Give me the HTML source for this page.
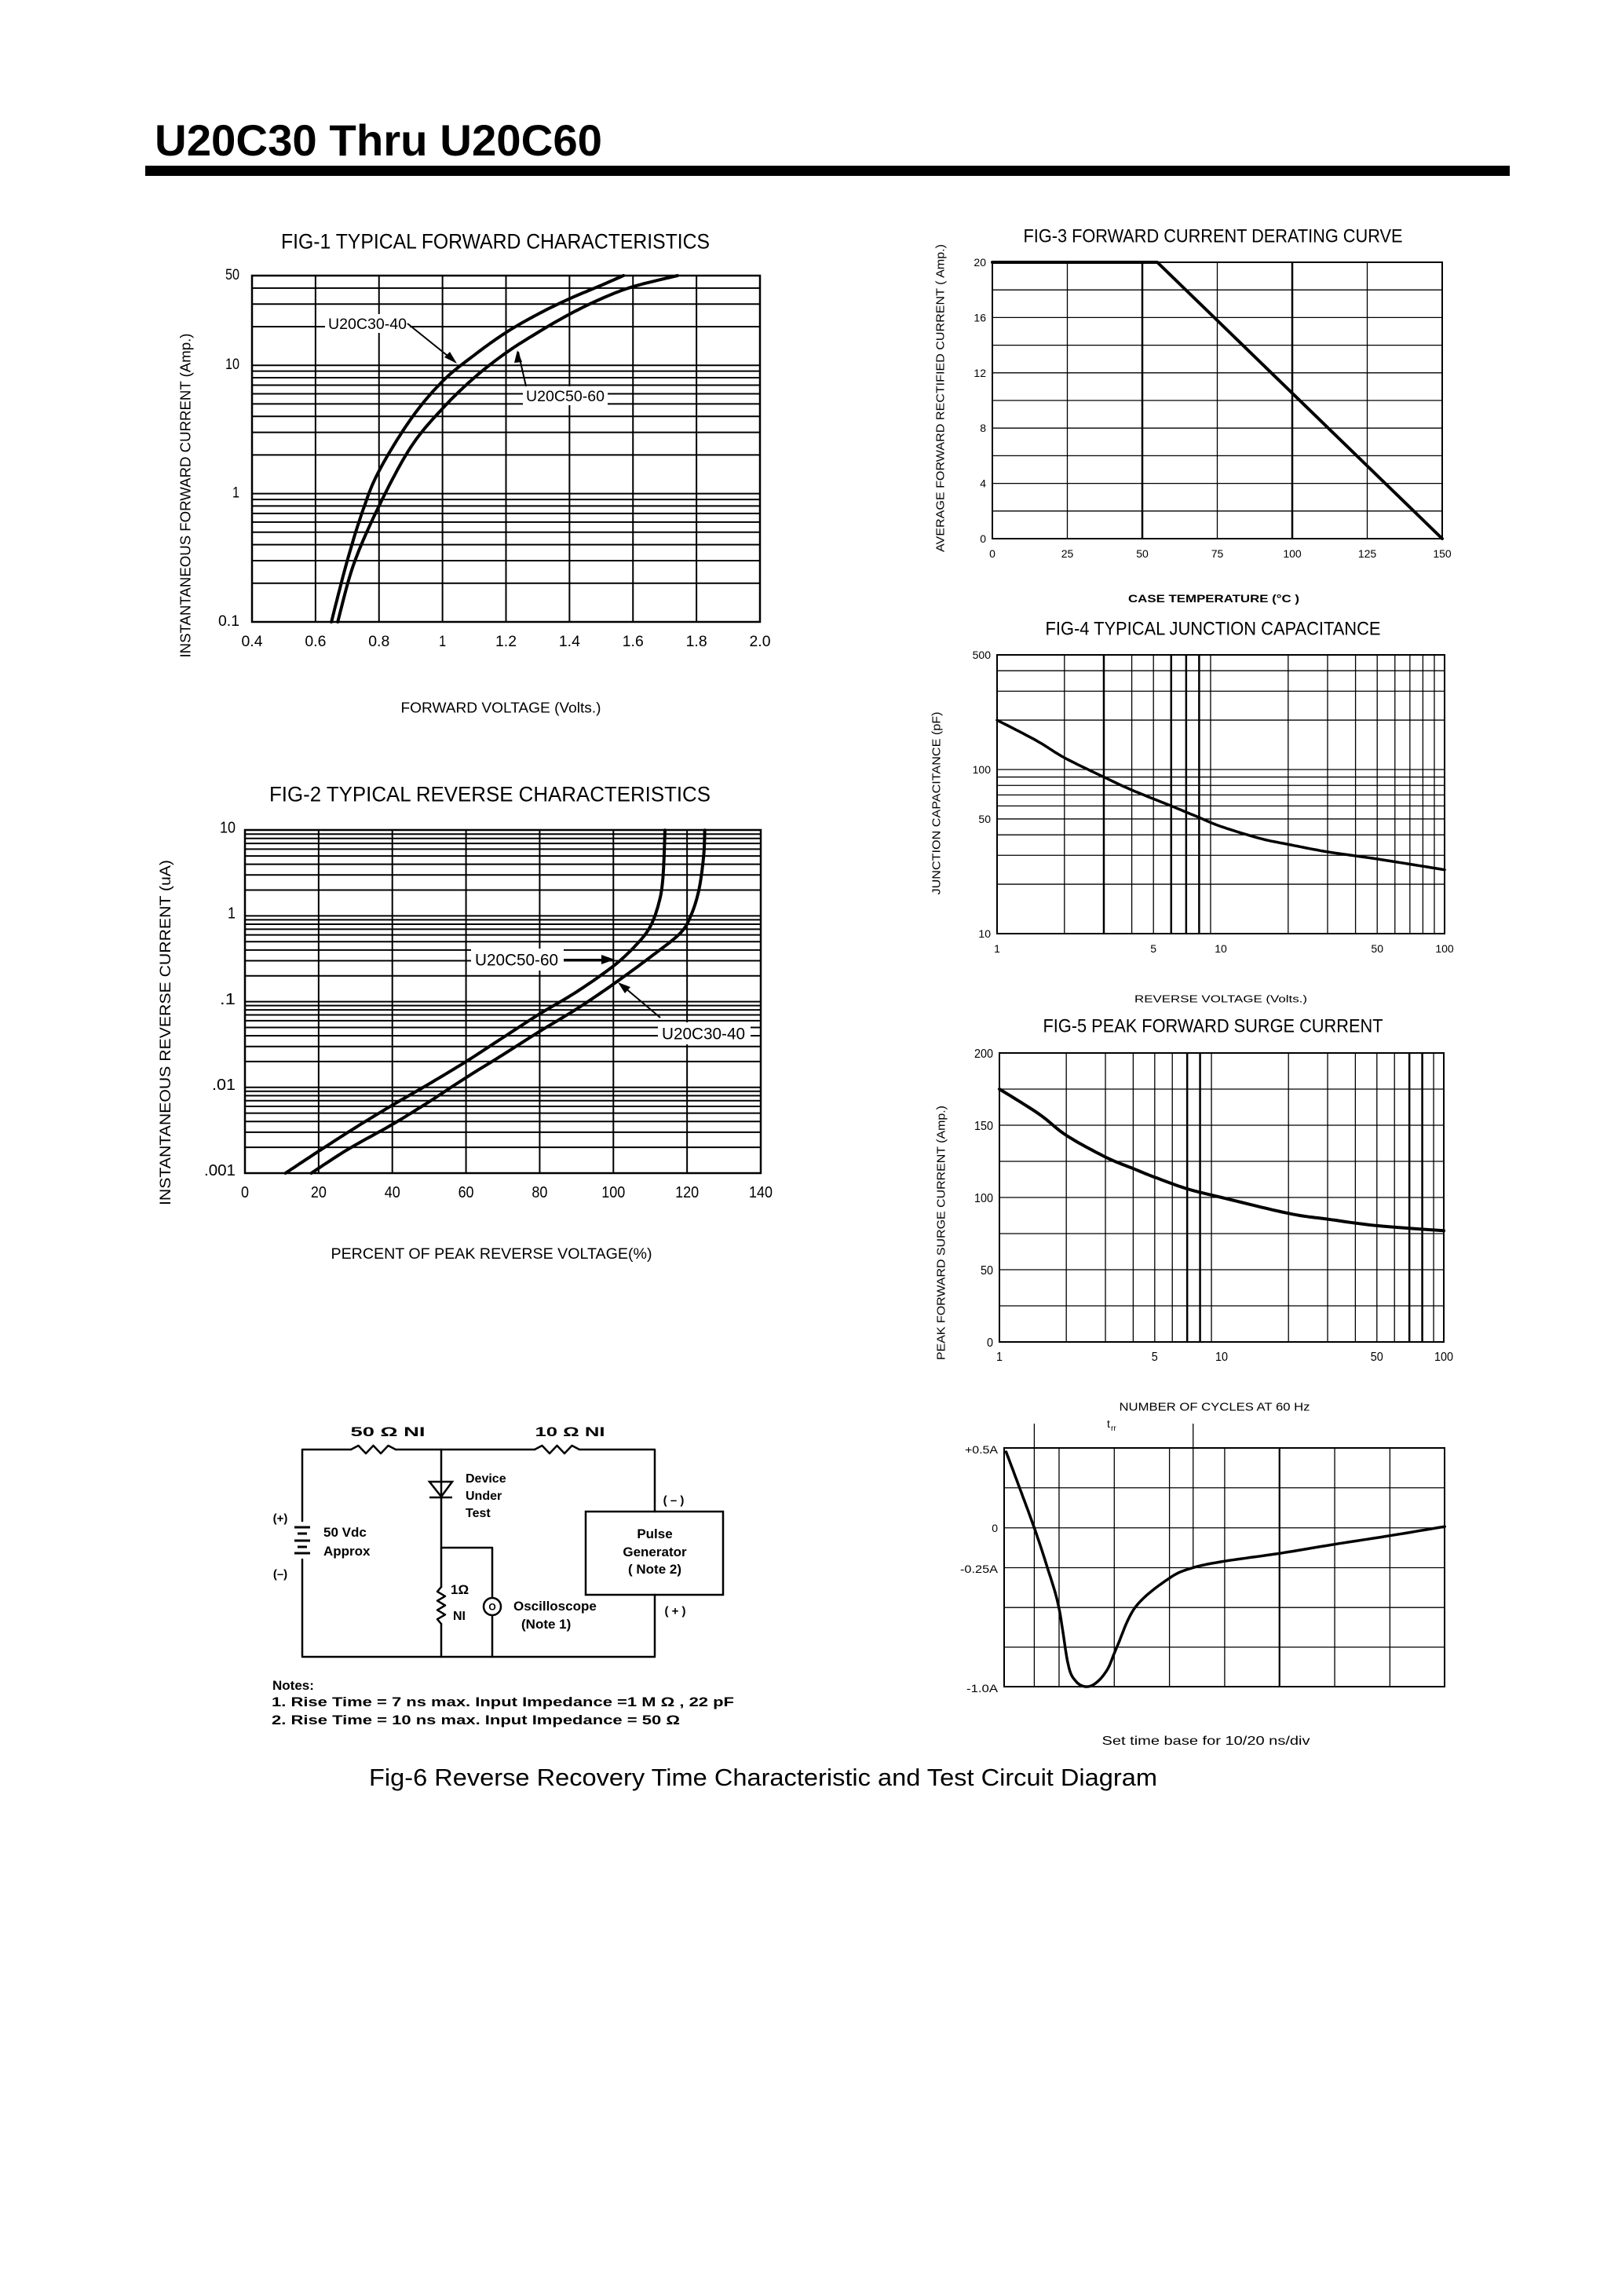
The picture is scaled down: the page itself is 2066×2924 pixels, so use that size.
<!DOCTYPE html>
<html><head><meta charset="utf-8"><style>
html,body{margin:0;padding:0;background:#fff;}
svg{display:block;}
</style></head><body>
<svg id="s" xmlns="http://www.w3.org/2000/svg" width="2066" height="2924" viewBox="0 0 2066 2924" font-family="Liberation Sans, Arial, sans-serif">
<rect width="2066" height="2924" fill="#fff"/>
<text x="197" y="198" font-size="56" font-weight="bold" textLength="570" lengthAdjust="spacingAndGlyphs">U20C30 Thru U20C60</text>
<rect x="185" y="211" width="1738" height="13" fill="#000"/>
</svg>
<script>
var S=document.getElementById('s'),NS='http://www.w3.org/2000/svg';
function el(n,a,t){var e=document.createElementNS(NS,n);for(var k in a)e.setAttribute(k,a[k]);if(t!=null)e.textContent=t;S.appendChild(e);return e;}
function L(x1,y1,x2,y2,w){el('line',{x1:x1,y1:y1,x2:x2,y2:y2,stroke:'#000','stroke-width':w||2});}
function T(x,y,s,sz,anc,len,o){o=o||{};var a={x:x,y:y+sz*0.36,'font-size':sz,'text-anchor':anc||'middle'};if(len){a.textLength=len;a.lengthAdjust='spacingAndGlyphs';}if(o.w)a['font-weight']='bold';if(o.rot){a.transform='rotate(-90 '+x+' '+y+')';}el('text',a,s);}
function P(pts,w){el('polyline',{points:pts.map(function(p){return p[0].toFixed(1)+','+p[1].toFixed(1)}).join(' '),fill:'none',stroke:'#000','stroke-width':w||4,'stroke-linejoin':'round','stroke-linecap':'round'});}
function R(x,y,w,h){el('rect',{x:x,y:y,width:w,height:h,fill:'#fff'});}
function box(x1,y1,x2,y2,w){el('rect',{x:x1,y:y1,width:x2-x1,height:y2-y1,fill:'none',stroke:'#000','stroke-width':w||2.5});}
function lg(v){return Math.log(v)/Math.LN10;}
function smooth(f,pts,n){
 var out=[];for(var i=0;i<pts.length-1;i++){var p0=pts[Math.max(0,i-1)],p1=pts[i],p2=pts[i+1],p3=pts[Math.min(pts.length-1,i+2)];
 for(var k=0;k<n;k++){var t=k/n,t2=t*t,t3=t2*t;var x=0.5*((2*p1[0])+(-p0[0]+p2[0])*t+(2*p0[0]-5*p1[0]+4*p2[0]-p3[0])*t2+(-p0[0]+3*p1[0]-3*p2[0]+p3[0])*t3);
 var y=0.5*((2*p1[1])+(-p0[1]+p2[1])*t+(2*p0[1]-5*p1[1]+4*p2[1]-p3[1])*t2+(-p0[1]+3*p1[1]-3*p2[1]+p3[1])*t3);out.push([x,y]);}}
 out.push(pts[pts.length-1]);return out;}
function curve(pts,w){P(smooth(null,pts,12),w);}

/* FIG 1 */
(function(){
var X=function(v){return 321+(v-0.4)/1.6*647},Y=function(i){return 792-(lg(i)+1)*163.4};
T(631,307,'FIG-1 TYPICAL FORWARD CHARACTERISTICS',27,'middle',546);
for(var v=0.6;v<1.95;v+=0.2)L(X(v),351,X(v),792,2);
[-1,0,1].forEach(function(d){for(var k=1;k<=9;k++){var i=k*Math.pow(10,d);if(i>0.1&&i<50)L(321,Y(i),968,Y(i),2);}});
box(321,351,968,792);
[['50',50],['10',10],['1',1],['0.1',0.1]].forEach(function(a){T(305,Y(a[1])-2,a[0],19,'end',a[0].length*9);});
['0.4','0.6','0.8','1','1.2','1.4','1.6','1.8','2.0'].forEach(function(s){T(X(parseFloat(s)),816,s,19,'middle',s.length*9);});
var c1=[[0.65,0.1],[0.7,0.3],[0.75,0.75],[0.8,1.5],[0.9,3.8],[1.0,7.5],[1.1,12],[1.2,18],[1.3,25],[1.4,33],[1.5,42],[1.57,50]];
var c2=[[0.67,0.1],[0.72,0.28],[0.8,0.8],[0.9,2.3],[1.0,4.6],[1.1,8],[1.2,12.5],[1.3,18],[1.4,25],[1.5,33],[1.6,41],[1.74,50]];
curve(c1.map(function(p){return[X(p[0]),Y(p[1])]}),4);
curve(c2.map(function(p){return[X(p[0]),Y(p[1])]}),4);
R(414,400,108,24);T(468,412,'U20C30-40',19,'middle',100);
L(519,412,580,461,2);el('polygon',{points:'582,463 566,455 573,448',fill:'#000'});
R(666,492,108,24);T(720,504,'U20C50-60',19,'middle',100);
L(670,492,660,448,2);el('polygon',{points:'659,446 655,462 665,461',fill:'#000'});
T(236,631,'INSTANTANEOUS FORWARD CURRENT (Amp.)',18,'middle',413,{rot:1});
T(638,901,'FORWARD VOLTAGE (Volts.)',18,'middle',255);
})();

/* FIG 2 */
(function(){
var X=function(p){return 312+p/140*657},Y=function(i){return 1494-(lg(i)+3)*109.2};
T(624,1011,'FIG-2 TYPICAL REVERSE CHARACTERISTICS',27,'middle',562);
for(var p=20;p<=120;p+=20)L(X(p),1057,X(p),1494,2);
[-3,-2,-1,0].forEach(function(d){for(var k=1;k<=9;k++){var i=k*Math.pow(10,d);if(i>0.001)L(312,Y(i),969,Y(i),2);}});
box(312,1057,969,1494);
[['10',10],['1',1],['.1',0.1],['.01',0.01],['.001',0.001]].forEach(function(a){T(300,Y(a[1])-4,a[0],20,'end',a[0].length*10);});
[0,20,40,60,80,100,120,140].forEach(function(p){var s=''+p;T(X(p),1518,s,20,'middle',s.length*10);});
var a=[[11,0.001],[20,0.0018],[30,0.0034],[40,0.0062],[50,0.011],[60,0.02],[70,0.038],[80,0.072],[90,0.13],[100,0.26],[106,0.45],[110,0.75],[112.5,1.5],[113.5,3],[114,10]];
var b=[[18,0.001],[28,0.0019],[40,0.0037],[50,0.0068],[60,0.013],[70,0.024],[80,0.045],[90,0.082],[100,0.16],[110,0.33],[118,0.62],[121,1.0],[123.2,2],[124.5,5],[124.8,10]];
curve(a.map(function(p){return[X(p[0]),Y(p[1])]}),4);
curve(b.map(function(p){return[X(p[0]),Y(p[1])]}),4);
R(600,1208,118,28);T(658,1222,'U20C50-60',21,'middle',106);
L(718,1222,770,1222,2);el('polygon',{points:'783,1222 766,1216 766,1228',fill:'#000'});
R(838,1302,118,28);T(896,1316,'U20C30-40',21,'middle',106);
L(841,1296,796,1258,2);el('polygon',{points:'787,1251 803,1257 796,1265',fill:'#000'});
T(210,1315,'INSTANTANEOUS REVERSE CURRENT (uA)',19,'middle',440,{rot:1});
T(626,1596,'PERCENT OF PEAK REVERSE VOLTAGE(%)',19,'middle',409);
})();

/* FIG 3 */
(function(){
var X=function(t){return 1264+t/150*573},Y=function(a){return 686-a/20*352};
T(1545,300,'FIG-3 FORWARD CURRENT DERATING CURVE',24,'middle',483);
for(var a=2;a<20;a+=2)L(1264,Y(a),1837,Y(a),1.3);
for(var t=25;t<150;t+=25)L(X(t),334,X(t),686,(t==50||t==100)?2.5:1.3);
box(1264,334,1837,686,2);
for(var a=0;a<=20;a+=4)T(1256,Y(a),''+a,14,'end');
for(var t=0;t<=150;t+=25)T(X(t),705,''+t,14,'middle');
P([[X(0),Y(20)],[X(55),Y(20)],[X(150),Y(0)]],4);
T(1197,507,'AVERAGE FORWARD RECTIFIED CURRENT ( Amp.)',15,'middle',392,{rot:1});
T(1546,762,'CASE TEMPERATURE (\u00B0C )',14,'middle',218,{w:1});
})();

/* FIG 4 */
(function(){
var X=function(v){return 1270+lg(v)*285},Y=function(c){return 1189-(lg(c)-1)*209};
T(1545,800,'FIG-4 TYPICAL JUNCTION CAPACITANCE',24,'middle',427);
[1,10].forEach(function(d){for(var k=2;k<=9;k++)L(X(k*d),834,X(k*d),1189,(k==3||k==6||k==7||k==8)&&d==1?2.5:1.3);});
[10,100].forEach(function(d){for(var k=1;k<=9;k++){var c=k*d;if(c>10&&c<500)L(1270,Y(c),1840,Y(c),1.3);}});
box(1270,834,1840,1189,2);
[['500',500],['100',100],['50',50],['10',10]].forEach(function(a){T(1262,Y(a[1]),a[0],14,'end');});
[['1',1],['5',5],['10',10],['50',50],['100',100]].forEach(function(a){T(X(a[1]),1208,a[0],14,'middle');});
var c=[[1,200],[1.5,150],[2,118],[3,90],[4,75],[6,60],[8,51],[10,45],[15,38],[20,35],[30,31.5],[50,28.5],[100,24.5]];
curve(c.map(function(p){return[X(p[0]),Y(p[1])]}),3.5);
T(1192,1023,'JUNCTION CAPACITANCE (pF)',15,'middle',233,{rot:1});
T(1555,1272,'REVERSE VOLTAGE (Volts.)',13,'middle',220);
})();

/* FIG 5 */
(function(){
var X=function(n){return 1273+lg(n)*283},Y=function(a){return 1709-a/200*368};
T(1545,1306,'FIG-5 PEAK FORWARD SURGE CURRENT',24,'middle',433);
[1,10].forEach(function(d){for(var k=2;k<=9;k++)L(X(k*d),1341,X(k*d),1709,(k==7||k==8)?2.5:1.3);});
for(var a=25;a<200;a+=25)L(1273,Y(a),1839,Y(a),1.3);
box(1273,1341,1839,1709,2);
for(var a=0;a<=200;a+=50)T(1265,Y(a),''+a,16,'end',(''+a).length*8);
[['1',1],['5',5],['10',10],['50',50],['100',100]].forEach(function(a){T(X(a[1]),1727,a[0],16,'middle',a[0].length*8);});
var c=[[1,175],[1.5,158],[2,143],[3,128],[4,120],[5,114],[7,106],[10,100],[20,89],[30,85],[50,80.5],[100,77]];
curve(c.map(function(p){return[X(p[0]),Y(p[1])]}),4);
T(1198,1570,'PEAK FORWARD SURGE CURRENT (Amp.)',15,'middle',324,{rot:1});
T(1547,1791,'NUMBER OF CYCLES AT 60 Hz',15,'middle',243);
})();

/* FIG 6 scope */
(function(){
var X=function(x){return 1150+0.4783*x},Y=function(y){return 1844+(y-190)*0.3315};
[190,343,497,650,803,955,1107].forEach(function(y){L(1279,Y(y),1840,Y(y),1.3);});
[416,563,710,857,1003,1150,1297].forEach(function(x){L(X(x),1844,X(x),2148,(x==1003)?2.2:1.3);});
L(X(350),1813,X(350),2148,1.3);L(X(773),1813,X(773),1998,1.3);
box(1279,1844,1840,2148,2);
T(1271,1846,'+0.5A',14,'end',42);T(1271,1946,'0',14,'end');T(1271,1998,'-0.25A',14,'end',48);T(1271,2150,'-1.0A',14,'end',40);
el('text',{x:1410,y:1818,'font-size':14},'t');el('text',{x:1415,y:1822,'font-size':10},'rr');
var c=[[275,205],[310,340],[350,497],[385,650],[415,800],[440,1020],[460,1085],[487,1107],[515,1092],[545,1040],[570,955],[620,800],[710,690],[773,650],[857,625],[1003,595],[1150,560],[1297,527],[1443,492]];
curve(c.map(function(p){return[X(p[0]),Y(p[1])]}),3.5);
T(1536,2216,'Set time base for 10/20  ns/div',16,'middle',265);
})();

/* circuit */
(function(){
function w(pts){P(pts,2.5);}
var Y=function(y){return 1780+0.408*y};
var zig=function(x0,x1,y){var p=[],n=6,dx=(x1-x0)/n;for(var i=0;i<=n;i++)p.push([x0+i*dx,y+(i==0||i==n?0:(i%2?-5:5))]);return p;};
var top=1846,bot=2110;
w([[385,1937],[385,top],[447,top]]);P(zig(447,504,top),2.5);w([[504,top],[681,top]]);P(zig(681,738,top),2.5);
w([[738,top],[834,top],[834,1925]]);
box(746,1925,921,2031,2.5);
w([[834,2031],[834,bot],[385,bot],[385,1986]]);
w([[562,top],[562,2021]]);
el('polygon',{points:'547,1887 576,1887 562,1906',fill:'none',stroke:'#000','stroke-width':2.5});L(547,1907,576,1907,2.5);
w([[562,1971],[627,1971],[627,2034]]);w([[627,2058],[627,bot]]);
el('circle',{cx:627,cy:2046,r:11,fill:'none',stroke:'#000','stroke-width':2.5});
T(627,2046,'O',12,'middle',null,{w:1});
var zp=[],n=8;for(var i=0;i<=n;i++)zp.push([562+(i==0||i==n?0:(i%2?-5:5)),2021+i*47/n]);P(zp,2.5);
w([[562,2068],[562,bot]]);
[[1945,20],[1953,12],[1962,20],[1970,12],[1978,20]].forEach(function(b){L(385-b[1]/2,b[0],385+b[1]/2,b[0],3);});
T(494,1823,'50 \u03A9  NI',17,'middle',95,{w:1});
T(726,1823,'10 \u03A9  NI',17,'middle',89,{w:1});
T(593,1882,'Device',16,'start',null,{w:1});T(593,1904,'Under',16,'start',null,{w:1});T(593,1926,'Test',16,'start',null,{w:1});
T(357,1933,'(+)',15,'middle',null,{w:1});T(357,2004,'(\u2013)',15,'middle',null,{w:1});
T(412,1951,'50 Vdc',17,'start',null,{w:1});T(412,1975,'Approx',17,'start',null,{w:1});
T(858,1910,'( \u2013 )',15,'middle',null,{w:1});T(860,2051,'( + )',15,'middle',null,{w:1});
T(834,1953,'Pulse',17,'middle',null,{w:1});T(834,1976,'Generator',17,'middle',null,{w:1});T(834,1998,'( Note 2)',17,'middle',null,{w:1});
T(574,2024,'1\u03A9',17,'start',null,{w:1});T(577,2057,'NI',16,'start',null,{w:1});
T(654,2045,'Oscilloscope',17,'start',null,{w:1});T(664,2068,'(Note 1)',17,'start',null,{w:1});
T(347,2146,'Notes:',17,'start',null,{w:1});
T(346,2167,'1. Rise Time = 7 ns max. Input Impedance =1 M \u03A9 , 22 pF',17,'start',589,{w:1});
T(346,2190,'2. Rise Time = 10 ns max. Input Impedance = 50 \u03A9',17,'start',520,{w:1});
})();
T(972,2263,'Fig-6 Reverse Recovery Time Characteristic and Test Circuit Diagram',31,'middle',1004);
</script>
</body></html>
